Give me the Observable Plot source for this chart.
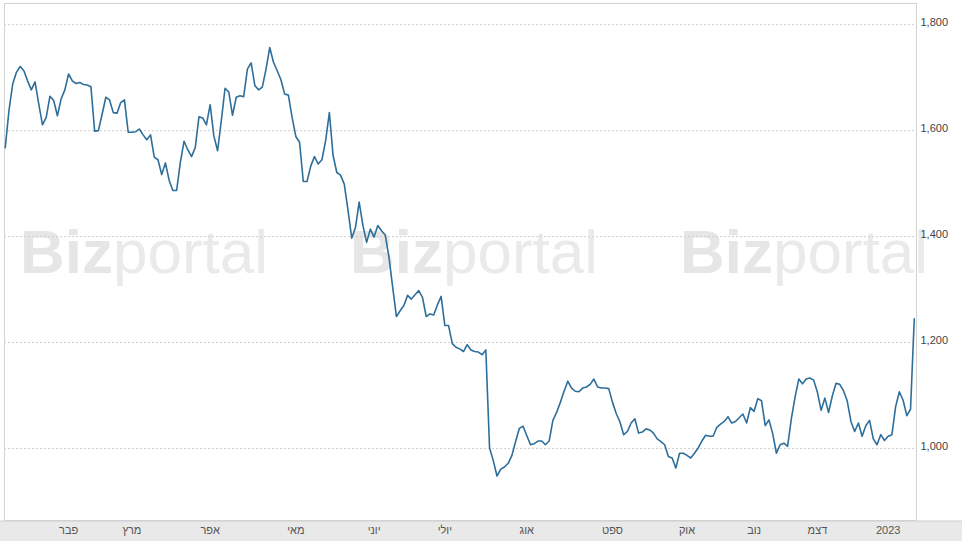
<!DOCTYPE html>
<html>
<head>
<meta charset="utf-8">
<script src="https://cdn.jsdelivr.net/npm/d3@7"></script>
<script src="https://cdn.jsdelivr.net/npm/@observablehq/plot@0.6"></script>
<style>
  html, body { margin: 0; padding: 0; background: #fff; }
  #chart svg { display: block; }
</style>
</head>
<body>
<div id="chart"></div>
<script>
// Closing prices, one per trading day (Jan 2022 – Jan 2023)
const prices = [
  1568, 1638, 1688, 1710, 1721, 1713, 1694, 1677, 1692, 1650,
  1611, 1625, 1665, 1657, 1628, 1660, 1677, 1707, 1694, 1689,
  1691, 1687, 1686, 1683, 1599, 1600, 1631, 1663, 1658, 1634,
  1633, 1653, 1658, 1597, 1597, 1598, 1603, 1592, 1583, 1592,
  1550, 1545, 1517, 1539, 1506, 1487, 1487, 1540, 1580, 1564,
  1551, 1568, 1626, 1624, 1611, 1649, 1590, 1562, 1619, 1680,
  1673, 1629, 1663, 1666, 1664, 1716, 1728, 1685, 1677, 1682,
  1716, 1757, 1729, 1713, 1696, 1669, 1667, 1625, 1589, 1578,
  1504, 1504, 1533, 1551, 1537, 1545, 1581, 1634, 1553, 1521,
  1516, 1499, 1450, 1397, 1417, 1465, 1421, 1389, 1414, 1399,
  1421, 1411, 1403, 1361, 1304, 1249, 1260, 1270, 1289, 1282,
  1290, 1298, 1285, 1249, 1254, 1252, 1271, 1287, 1232, 1232,
  1198, 1191, 1188, 1183, 1196, 1186, 1183, 1182, 1177, 1186,
  1001, 977, 948, 961, 965, 972, 987, 1013, 1038, 1042,
  1024, 1007, 1009, 1014, 1014, 1007, 1014, 1053, 1068, 1087,
  1108, 1127, 1114, 1108, 1107, 1114, 1116, 1121, 1131, 1116,
  1114, 1114, 1113, 1087, 1066, 1050, 1026, 1032, 1048, 1056,
  1029, 1031, 1037, 1035, 1029, 1018, 1013, 1007, 985, 982,
  963, 991, 991, 987, 982, 991, 1001, 1014, 1025, 1023,
  1023, 1040, 1046, 1051, 1060, 1048, 1051, 1058, 1065, 1048,
  1077, 1070, 1094, 1090, 1043, 1054, 1028, 991, 1007, 1010,
  1004, 1056, 1097, 1131, 1122, 1131, 1133, 1129, 1106, 1072,
  1095, 1068, 1099, 1123, 1121, 1109, 1090, 1051, 1032, 1048,
  1023, 1043, 1053, 1018, 1007, 1026, 1015, 1023, 1026, 1079,
  1107, 1091, 1062, 1074, 1245
];

// Month labels and the trading-day index where each month begins
const monthLabels = ["פבר", "מרץ", "אפר", "מאי", "יוני", "יולי", "אוג", "ספט", "אוק", "נוב", "דצמ", "2023"];
const monthStartIdx = [17, 34, 55, 78, 99, 118, 140, 163, 183, 201, 218, 237];

// Price axis ticks
const yTicks = [1000, 1200, 1400, 1600, 1800];

const watermarkText = ["Biz", "portal"];

const data = prices.map((v, i) => ({i, v}));

const chart = Plot.plot({
  width: 962,
  height: 544,
  marginLeft: 4,
  marginRight: 46,
  marginTop: 3,
  marginBottom: 24,
  style: {
    fontFamily: "'Liberation Sans', Arial, sans-serif",
    fontSize: "11px",
    color: "#555",
    background: "transparent",
    overflow: "visible"
  },
  x: {domain: [-0.2, 244.6], axis: null},
  y: {domain: [864, 1840], axis: null},
  marks: [
    Plot.gridY(yTicks, {stroke: "#cfcfcf", strokeOpacity: 1, strokeDasharray: "2,2"}),
    Plot.frame({stroke: "#d2d2d2"}),
    Plot.axisY(yTicks, {
      anchor: "right",
      label: null,
      tickSize: 0,
      tickPadding: 4,
      dy: -2,
      fill: "#444",
      tickFormat: d3.format(",")
    }),
    Plot.axisX(monthStartIdx, {
      anchor: "bottom",
      label: null,
      tickSize: 0,
      tickPadding: 6,
      fill: "#555",
      tickFormat: d => monthLabels[monthStartIdx.indexOf(d)]
    }),
    Plot.line(data, {x: "i", y: "v", stroke: "#2e6e9a", strokeWidth: 1.6})
  ]
});

// Bottom band for the time axis and the watermark, placed behind the marks
const first = chart.querySelector("style") ? chart.querySelector("style").nextSibling : chart.firstChild;
const back = document.createElementNS("http://www.w3.org/2000/svg", "g");
chart.insertBefore(back, first);
const gb = d3.select(back);
gb.append("rect").attr("x", 0).attr("y", 521).attr("width", 962).attr("height", 20).attr("fill", "#e9e9e9");
gb.append("line").attr("x1", 0).attr("x2", 962).attr("y1", 521).attr("y2", 521).attr("stroke", "#cdcdcd");
[20, 350, 680].forEach(x => {
  const t = gb.append("text")
    .attr("x", x).attr("y", 273)
    .attr("text-anchor", "start")
    .attr("font-size", 62)
    .attr("font-family", "'Liberation Sans', Arial, sans-serif")
    .attr("fill", "#e6e6e6");
  t.append("tspan").attr("font-weight", "bold").text(watermarkText[0]);
  t.append("tspan").attr("font-weight", "normal").attr("fill", "#eaeaea").text(watermarkText[1]);
});

document.getElementById("chart").appendChild(chart);
</script>
</body>
</html>
